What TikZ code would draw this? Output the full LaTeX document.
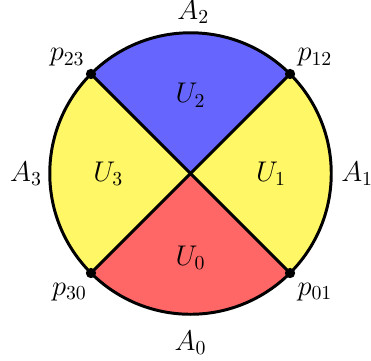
\documentclass[tikz,border=0pt]{standalone}
\begin{document}
\begin{tikzpicture}[thick, line width=1.5pt, every node/.style={font=\Large}]
        \useasboundingbox (-3.384,-3.313) rectangle (3.206,3.082);
        \def\r{2.5}
        \coordinate (o) at (0,0);
        \coordinate (p12) at (45:\r);
        \coordinate (p23) at (135:\r);
        \coordinate (p30) at (225:\r);
        \coordinate (p01) at (315:\r);

        % Sectors
        \fill[yellow!60] (o) -- (p01) arc (-45:45:\r) -- cycle;
        \fill[blue!60] (o) -- (p12) arc (45:135:\r) -- cycle;
        \fill[yellow!60] (o) -- (p23) arc (135:225:\r) -- cycle;
        \fill[red!60] (o) -- (p30) arc (225:315:\r) -- cycle;

        % Boundary and diagonals
        \draw (o) circle (\r);
        \draw (p23) -- (p01);
        \draw (p12) -- (p30);

        % Corner points
        \foreach \p in {p12,p23,p30,p01}
            \fill (\p) circle (2.6pt);
        \node (lp23) at (-2.19,2.06) {$p_{23}$};
        \node (lp12) at (2.21,2.06) {$p_{12}$};
        \node (lp30) at (-2.15,-2.10) {$p_{30}$};
        \node (lp01) at (2.21,-2.10) {$p_{01}$};

        % Arc labels
        \node (a2) at (0.05,2.87) {$A_2$};
        \node (a1) at (2.96,0) {$A_1$};
        \node (a0) at (0,-3.01) {$A_0$};
        \node (a3) at (-2.92,0) {$A_3$};

        % Region labels
        \node (u2) at (0,1.39) {$U_2$};
        \node (u1) at (1.43,0) {$U_1$};
        \node (u0) at (0,-1.5) {$U_0$};
        \node (u3) at (-1.46,0) {$U_3$};
\end{tikzpicture}
\end{document}
